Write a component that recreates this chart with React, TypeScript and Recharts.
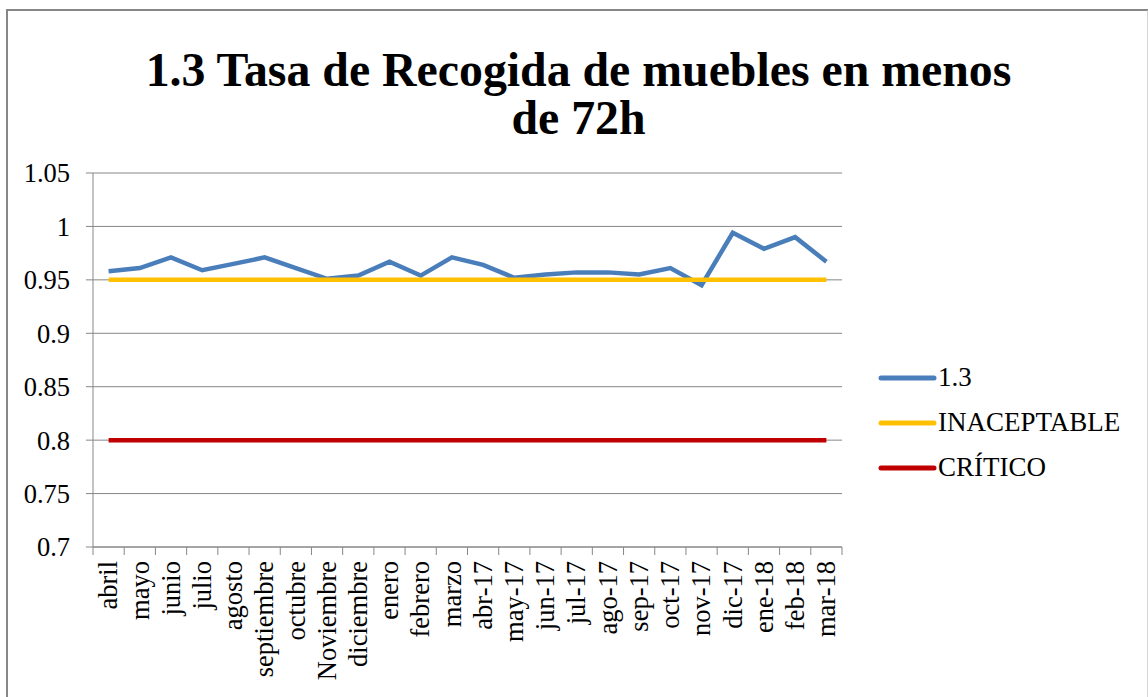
import React from 'react';
import { LineChart, Line, XAxis, YAxis, CartesianGrid, Legend } from 'recharts';

const months = [
  'abril', 'mayo', 'junio', 'julio', 'agosto', 'septiembre', 'octubre', 'Noviembre',
  'diciembre', 'enero', 'febrero', 'marzo', 'abr-17', 'may-17', 'jun-17', 'jul-17',
  'ago-17', 'sep-17', 'oct-17', 'nov-17', 'dic-17', 'ene-18', 'feb-18', 'mar-18'
];

const tasa13 = [
  0.958, 0.961, 0.971, 0.959, 0.965, 0.971, 0.961, 0.951,
  0.954, 0.967, 0.954, 0.971, 0.964, 0.952, 0.955, 0.957,
  0.957, 0.955, 0.961, 0.945, 0.994, 0.979, 0.990, 0.967
];

const inaceptable = [
  0.95, 0.95, 0.95, 0.95, 0.95, 0.95, 0.95, 0.95,
  0.95, 0.95, 0.95, 0.95, 0.95, 0.95, 0.95, 0.95,
  0.95, 0.95, 0.95, 0.95, 0.95, 0.95, 0.95, 0.95
];

const critico = [
  0.8, 0.8, 0.8, 0.8, 0.8, 0.8, 0.8, 0.8,
  0.8, 0.8, 0.8, 0.8, 0.8, 0.8, 0.8, 0.8,
  0.8, 0.8, 0.8, 0.8, 0.8, 0.8, 0.8, 0.8
];

const yTicks = [0.7, 0.75, 0.8, 0.85, 0.9, 0.95, 1, 1.05];
const seriesNames = ['1.3', 'INACEPTABLE', 'CRÍTICO'];

const FONT = '"Liberation Serif", "Times New Roman", serif';
const GRID = '#878787';

const PLOT_LEFT = 93;
const PLOT_RIGHT = 842;
// half a category slot, so points sit in the middle of each slot like excel
const HALF = (PLOT_RIGHT - PLOT_LEFT) / (months.length * 2);

const data = months.map((mes, i) => ({
  mes,
  tasa: tasa13[i],
  inac: inaceptable[i],
  crit: critico[i],
}));

// tick marks between categories, labels running bottom-to-top
const MonthTick = (props: any) => {
  const { x, y, payload, index, visibleTicksCount } = props;
  const axisY = y - 10;
  const ty = y + 4;
  return (
    <g>
      <line x1={x - HALF} y1={axisY} x2={x - HALF} y2={axisY + 8} stroke={GRID} />
      {index === visibleTicksCount - 1 && (
        <line x1={x + HALF} y1={axisY} x2={x + HALF} y2={axisY + 8} stroke={GRID} />
      )}
      <text
        x={x}
        y={ty}
        transform={`rotate(-90, ${x}, ${ty})`}
        textAnchor="end"
        dy="0.33em"
        fontFamily={FONT}
        fontSize={26.5}
        fill="#000"
      >
        {payload.value}
      </text>
    </g>
  );
};

const LegendBox = (props: any) => {
  const items = [...(props.payload || [])].sort(
    (a: any, b: any) => seriesNames.indexOf(a.value) - seriesNames.indexOf(b.value)
  );
  return (
    <div style={{ fontFamily: FONT, fontSize: 27, color: '#000' }}>
      {items.map((p: any) => (
        <div key={p.value} style={{ display: 'flex', alignItems: 'center', height: 45 }}>
          <svg width={62} height={10}>
            <line x1={5} y1={5} x2={58} y2={5} stroke={p.color} strokeWidth={5} strokeLinecap="round" />
          </svg>
          <span>{p.value}</span>
        </div>
      ))}
    </div>
  );
};

export default function App() {
  return (
    <div style={{ position: 'absolute', left: 0, top: 0, width: 1148, height: 697, overflow: 'hidden', background: '#fff' }}>
      <div
        style={{
          position: 'absolute', left: 6, top: 9, width: 1143, height: 720,
          borderTop: `2px solid ${GRID}`, borderLeft: `2px solid ${GRID}`,
          borderRight: '2px solid #d4d4d4', boxSizing: 'border-box',
        }}
      />
      <div
        style={{
          position: 'absolute', left: 0, top: 46, width: 1157, textAlign: 'center',
          fontFamily: FONT, fontWeight: 'bold', fontSize: 47.8, lineHeight: '48px', color: '#000',
        }}
      >
        1.3 Tasa de Recogida de muebles en menos<br />de 72h
      </div>
      <div style={{ position: 'absolute', left: 0, top: 0 }}>
        <LineChart
          width={1148}
          height={697}
          data={data}
          margin={{ top: 173, right: 1148 - PLOT_RIGHT - 260, bottom: 0, left: 0 }}
        >
          <CartesianGrid vertical={false} stroke={GRID} strokeWidth={1} />
          <XAxis
            dataKey="mes"
            interval={0}
            height={150}
            padding={{ left: HALF, right: HALF }}
            stroke={GRID}
            tickSize={8}
            tickMargin={2}
            tick={<MonthTick />}
            tickLine={{ stroke: 'none' }}
          />
          <YAxis
            domain={[0.7, 1.05]}
            ticks={yTicks}
            width={PLOT_LEFT}
            stroke={GRID}
            tickSize={7}
            tickMargin={16}
            tick={{ fontFamily: FONT, fontSize: 26.5, fill: '#000' }}
          />
          <Legend
            layout="vertical"
            align="right"
            verticalAlign="top"
            content={<LegendBox />}
            wrapperStyle={{ left: 876, top: 355, width: 260 }}
          />
          <Line dataKey="tasa" name="1.3" stroke="#4A7EBB" strokeWidth={4.5} dot={false} isAnimationActive={false} />
          <Line dataKey="inac" name="INACEPTABLE" stroke="#FFC000" strokeWidth={4.5} dot={false} isAnimationActive={false} />
          <Line dataKey="crit" name="CRÍTICO" stroke="#C00000" strokeWidth={4.5} dot={false} isAnimationActive={false} />
        </LineChart>
      </div>
    </div>
  );
}
